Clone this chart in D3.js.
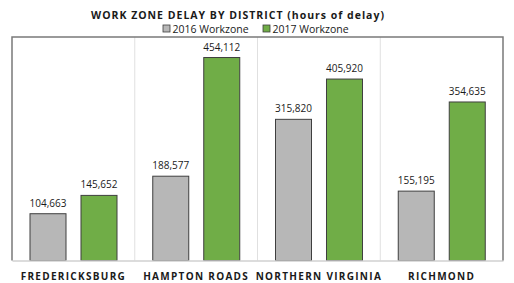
<!DOCTYPE html>
<html>
<head>
<meta charset="utf-8">
<script src="https://cdn.jsdelivr.net/npm/d3@7"></script>
<style>
  body { margin: 0; background: #fff; }
  text { font-family: "Open Sans", "Noto Sans", sans-serif; fill: #1a1a1a; }
</style>
</head>
<body>
<div id="chart"></div>
<script>
const districts = ["FREDERICKSBURG", "HAMPTON ROADS", "NORTHERN VIRGINIA", "RICHMOND"];
const seriesNames = ["2016 Workzone", "2017 Workzone"];
const delay2016 = [104663, 188577, 315820, 155195];
const delay2017 = [145652, 454112, 405920, 354635];
const colors = ["#b7b7b7", "#70ad47"];

const W = 514, H = 283;
const plot = {left: 12, right: 503, top: 37, bottom: 260.5};

const svg = d3.select('#chart').append('svg')
  .attr('width', W)
  .attr('height', H);

const x0 = d3.scaleBand()
  .domain(districts)
  .range([plot.left, plot.right])
  .padding(0);

const x1 = d3.scaleBand()
  .domain(seriesNames)
  .range([18, 105])
  .paddingInner(0.294)
  .paddingOuter(0);

const y = d3.scaleLinear()
  .domain([0, 500000])
  .range([plot.bottom, plot.top]);

// category dividers
svg.append('g')
  .selectAll('line')
  .data(districts.slice(1))
  .join('line')
    .attr('x1', d => x0(d))
    .attr('x2', d => x0(d))
    .attr('y1', plot.top)
    .attr('y2', plot.bottom)
    .attr('stroke', '#e0e0e0')
    .attr('stroke-width', 1);

// bars
const rows = districts.map((d, i) => ({district: d, values: [delay2016[i], delay2017[i]]}));

const groups = svg.append('g')
  .selectAll('g')
  .data(rows)
  .join('g')
    .attr('transform', d => `translate(${x0(d.district)},0)`);

groups.selectAll('rect')
  .data(d => d.values.map((v, j) => ({series: seriesNames[j], value: v, j: j})))
  .join('rect')
    .attr('x', d => x1(d.series))
    .attr('y', d => y(d.value))
    .attr('width', x1.bandwidth())
    .attr('height', d => y(0) - y(d.value))
    .attr('fill', d => colors[d.j])
    .attr('stroke', '#3f3f3f')
    .attr('stroke-width', 1);

groups.selectAll('text.val')
  .data(d => d.values.map((v, j) => ({series: seriesNames[j], value: v})))
  .join('text')
    .attr('class', 'val')
    .attr('x', d => x1(d.series) + x1.bandwidth() / 2)
    .attr('y', d => y(d.value) - 7)
    .attr('text-anchor', 'middle')
    .style('font-size', '10px')
    .text(d => d3.format(',')(d.value));

// bottom axis
const xAxis = svg.append('g')
  .attr('transform', `translate(0,${plot.bottom})`)
  .call(d3.axisBottom(x0).tickSize(0).tickPadding(0));
xAxis.select('.domain').attr('stroke', '#d0d0d0').attr('stroke-width', 1.5);
xAxis.selectAll('.tick text')
  .attr('y', 19)
  .attr('dy', 0)
  .style('font-family', '"Open Sans", sans-serif')
  .style('font-size', '10px')
  .style('font-weight', 'bold')
  .style('letter-spacing', '1.3px')
  .attr('fill', '#1a1a1a');

// frame (left, top, right)
svg.append('path')
  .attr('d', `M${plot.left},${plot.bottom}V${plot.top}H${plot.right}V${plot.bottom}`)
  .attr('fill', 'none')
  .attr('stroke', '#7a7a7a')
  .attr('stroke-width', 1.5);

// title
svg.append('text')
  .attr('x', 238)
  .attr('y', 18.5)
  .attr('text-anchor', 'middle')
  .style('font-size', '10.5px')
  .style('font-weight', 'bold')
  .style('letter-spacing', '1px')
  .text('WORK ZONE DELAY BY DISTRICT (hours of delay)');

// legend
const legendX = [163, 263];
const legend = svg.append('g')
  .selectAll('g')
  .data(seriesNames)
  .join('g')
    .attr('transform', (d, i) => `translate(${legendX[i]},25)`);
legend.append('rect')
  .attr('width', 7)
  .attr('height', 7)
  .attr('fill', (d, i) => colors[i])
  .attr('stroke', '#3f3f3f')
  .attr('stroke-width', 0.8);
legend.append('text')
  .attr('x', 9.5)
  .attr('y', 7.5)
  .style('font-size', '10.5px')
  .text(d => d);
</script>
</body>
</html>
